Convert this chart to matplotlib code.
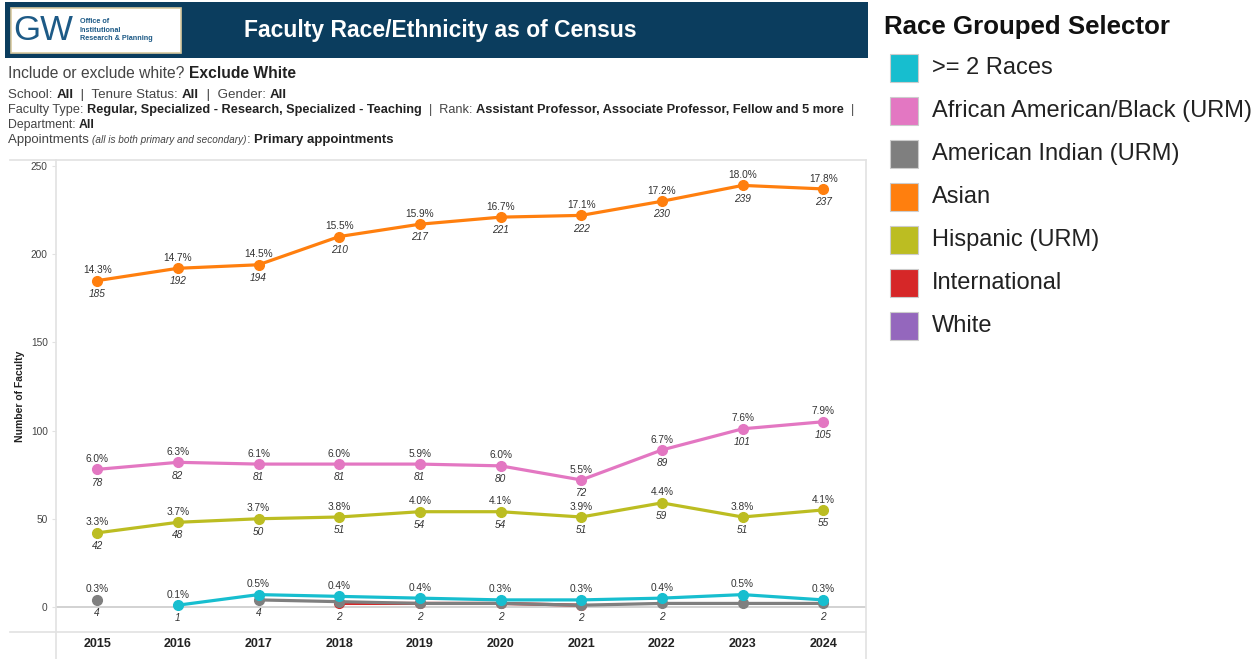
import numpy as np
import matplotlib
matplotlib.use("Agg")
import matplotlib.pyplot as plt
from matplotlib.patches import Rectangle
from matplotlib.lines import Line2D
from matplotlib import font_manager

plt.rcParams['font.family'] = ['Liberation Sans', 'DejaVu Sans']

# ---------------- data ----------------
years = [2015, 2016, 2017, 2018, 2019, 2020, 2021, 2022, 2023, 2024]
nan = np.nan

asian = [185, 192, 194, 210, 217, 221, 222, 230, 239, 237]
asian_pct = ["14.3%", "14.7%", "14.5%", "15.5%", "15.9%", "16.7%", "17.1%", "17.2%", "18.0%", "17.8%"]
asian_lbl = ["185", "192", "194", "210", "217", "221", "222", "230", "239", "237"]

black = [78, 82, 81, 81, 81, 80, 72, 89, 101, 105]
black_pct = ["6.0%", "6.3%", "6.1%", "6.0%", "5.9%", "6.0%", "5.5%", "6.7%", "7.6%", "7.9%"]
black_lbl = ["78", "82", "81", "81", "81", "80", "72", "89", "101", "105"]

hisp = [42, 48, 50, 51, 54, 54, 51, 59, 51, 55]
hisp_pct = ["3.3%", "3.7%", "3.7%", "3.8%", "4.0%", "4.1%", "3.9%", "4.4%", "3.8%", "4.1%"]
hisp_lbl = ["42", "48", "50", "51", "54", "54", "51", "59", "51", "55"]

two = [nan, 1, 7, 6, 5, 4, 4, 5, 7, 4]
two_pct = ["", "0.1%", "0.5%", "0.4%", "0.4%", "0.3%", "0.3%", "0.4%", "0.5%", "0.3%"]
two_lbl = ["", "1", "", "", "", "", "", "", "", ""]

amind = [4, nan, 4, 3, 2, 2, 1, 2, 2, 2]
amind_pct = ["0.3%", "", "", "", "", "", "", "", "", ""]
amind_lbl = ["4", "", "4", "", "2", "2", "2", "2", "", "2"]

intl = [nan, nan, nan, 2, 2, 2, 1, nan, nan, nan]
intl_lbl = ["", "", "", "2", "", "", "", "", "", ""]

legend_names = [">= 2 Races", "African American/Black (URM)", "American Indian (URM)",
                "Asian", "Hispanic (URM)", "International", "White"]
legend_colors = ["#17becf", "#e377c2", "#7f7f7f", "#ff7f0e", "#bcbd22", "#d62728", "#9467bd"]

yticks = [0, 50, 100, 150, 200, 250]

# ---------------- figure ----------------
W, H = 1259, 659
fig = plt.figure(figsize=(W / 100, H / 100), dpi=100)
fig.patch.set_facecolor("white")

def fx(px):
    return px / W

def fy(py):
    return 1 - py / H

installed = {f.name for f in font_manager.fontManager.ttflist}
narrow = "Liberation Sans Narrow" if "Liberation Sans Narrow" in installed else "Liberation Sans"

# header banner
fig.patches.append(Rectangle((fx(5), fy(58)), fx(863), 56 / H, transform=fig.transFigure,
                             facecolor="#0b3d5e", edgecolor="none", zorder=0))
fig.patches.append(Rectangle((fx(11), fy(53)), fx(170), 45 / H, transform=fig.transFigure,
                             facecolor="white", edgecolor="#d8c9a0", linewidth=1.2, zorder=1))
fig.text(fx(13), fy(31), "GW", fontsize=25, color="#1d5a86", va="center", ha="left", zorder=2)
fig.text(fx(80), fy(30), "Office of\nInstitutional\nResearch & Planning", fontsize=5.2,
         fontweight="bold", color="#1d5a86", va="center", ha="left", linespacing=1.35, zorder=2)
fig.text(fx(440), fy(30), "Faculty Race/Ethnicity as of Census", fontsize=16.5,
         fontweight="bold", color="white", va="center", ha="center", zorder=2)

renderer = fig.canvas.get_renderer()

def rich(x, y, parts, size, target_right=None):
    def draw(scale):
        cx = x
        arts = []
        for s, weight, style, rel in parts:
            t = fig.text(fx(cx), fy(y), s, fontsize=size * rel * scale, fontweight=weight,
                         style=style, va="center", ha="left",
                         color="#222222" if weight == "bold" else "#444444",
                         family=[narrow, "Liberation Sans", "DejaVu Sans"])
            arts.append(t)
            cx += t.get_window_extent(renderer).width
        return arts, cx
    arts, right = draw(1.0)
    if target_right is not None:
        sc = (target_right - x) / (right - x)
        for a in arts:
            a.remove()
        draw(sc)

N, B = "normal", "bold"
rich(8, 73, [("Include or exclude white? ", N, "normal", 1),
             ("Exclude White", B, "normal", 1)], 9, 296)
rich(8, 95, [("School: ", N, "normal", 1), ("All", B, "normal", 1),
             ("  |  Tenure Status: ", N, "normal", 1), ("All", B, "normal", 1),
             ("  |  Gender: ", N, "normal", 1), ("All", B, "normal", 1)], 7.2, 287)
rich(8, 110, [("Faculty Type: ", N, "normal", 1),
              ("Regular, Specialized - Research, Specialized - Teaching", B, "normal", 1),
              ("  |  Rank: ", N, "normal", 1),
              ("Assistant Professor, Associate Professor, Fellow and 5 more", B, "normal", 1),
              ("  |", N, "normal", 1)], 7.2, 858)
rich(8, 125, [("Department: ", N, "normal", 1), ("All", B, "normal", 1)], 7.2, 95)
rich(8, 140, [("Appointments ", N, "normal", 1),
              ("(all is both primary and secondary)", N, "italic", 0.75),
              (": ", N, "normal", 1), ("Primary appointments", B, "normal", 1)], 7.2, 393)

# frame lines
grey = "#e2e2e2"
for (x0, y0, x1, y1) in [(10, 160, 866, 160), (866, 160, 866, 659), (10, 632, 866, 632),
                         (56, 160, 56, 659)]:
    fig.lines.append(Line2D([fx(x0), fx(x1)], [fy(y0), fy(y1)], transform=fig.transFigure,
                            color=grey, linewidth=1.2))

# ---------------- main axes ----------------
ax = fig.add_axes([fx(56), fy(632), fx(866 - 56), (632 - 160) / H])
ax.set_xlim(2014.49, 2024.53)
ax.set_ylim(-14.2, 253.4)
for s in ax.spines.values():
    s.set_visible(False)
ax.set_facecolor("none")
ax.axhline(0, color="#cfcfcf", linewidth=1.3, zorder=1)

ax.set_yticks(yticks)
ax.set_yticklabels([str(v) for v in yticks], fontsize=7.3, color="#444444")
ax.tick_params(axis="y", length=3, color=grey, pad=3)
ax.set_xticks(years)
ax.set_xticklabels([str(y) for y in years], fontsize=9, fontweight="bold", color="#222222")
ax.tick_params(axis="x", length=0, pad=4)
ax.set_ylabel("Number of Faculty", fontsize=7.5, fontweight="bold", color="#222222", labelpad=4)

def series(vals, color, pct=None, lbl=None, z=3):
    ax.plot(years, vals, color=color, linewidth=2.3, marker="o", markersize=7, zorder=z,
            solid_capstyle="round")
    for i, (x, v) in enumerate(zip(years, vals)):
        if np.isnan(v):
            continue
        if pct and pct[i]:
            ax.annotate(pct[i], (x, v), xytext=(0, 7.5), textcoords="offset points",
                        ha="center", va="center", fontsize=7.3, color="#333333")
        if lbl and lbl[i]:
            ax.annotate(lbl[i], (x, v), xytext=(0, -9.5), textcoords="offset points",
                        ha="center", va="center", fontsize=7.3, style="italic", color="#333333")

series(asian, "#ff7f0e", asian_pct, asian_lbl)
series(black, "#e377c2", black_pct, black_lbl)
series(hisp, "#bcbd22", hisp_pct, hisp_lbl)
series(amind, "#7f7f7f", amind_pct, amind_lbl, z=3)
series(intl, "#d62728", None, intl_lbl, z=2)
series(two, "#17becf", two_pct, two_lbl, z=4)

# ---------------- legend ----------------
fig.text(fx(884), fy(27), "Race Grouped Selector", fontsize=18.6, fontweight="bold",
         color="#111111", va="center", ha="left")
for i, (name, col) in enumerate(zip(legend_names, legend_colors)):
    yc = 68 + i * 43.0
    fig.patches.append(Rectangle((fx(890), fy(yc + 14)), fx(28), 28 / H,
                                 transform=fig.transFigure, facecolor=col,
                                 edgecolor="#cccccc", linewidth=0.8))
    fig.text(fx(932), fy(yc), name, fontsize=17, color="#222222", va="center", ha="left")

fig.savefig("out.png", dpi=100)
